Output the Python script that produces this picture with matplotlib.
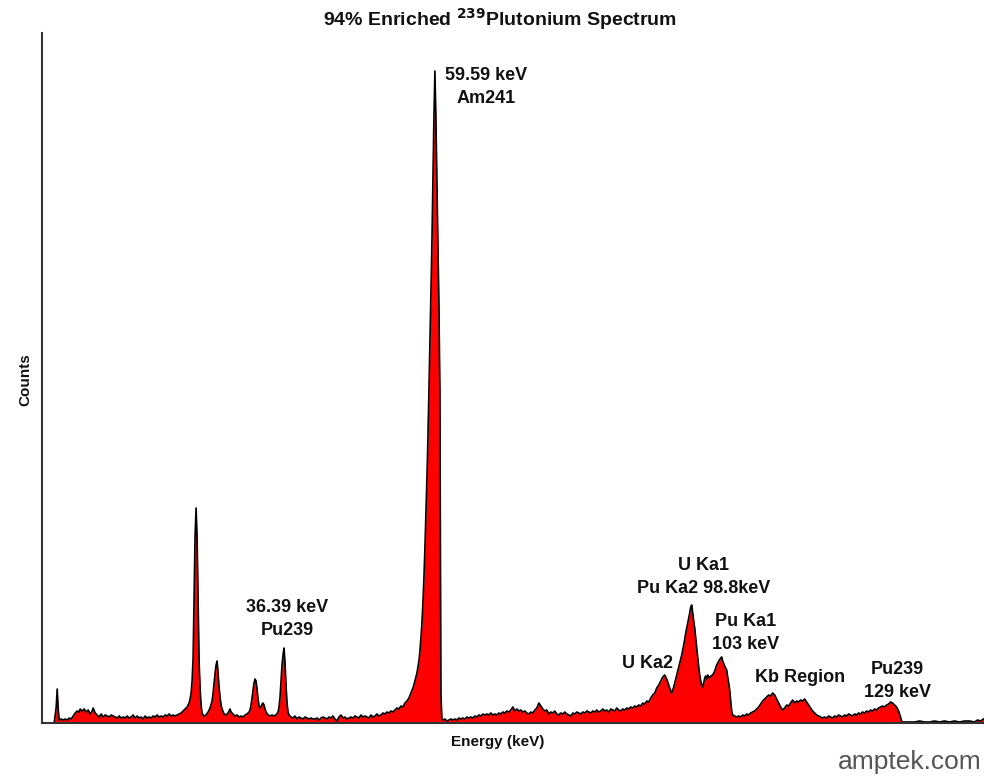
import matplotlib.pyplot as plt

# MCA readout: channel number and counts (arbitrary units)
# energy calibration: keV = GAIN * (channel - ZERO_CH)
GAIN = 0.1536
ZERO_CH = 47

channels = [
    54, 56, 57, 58, 59, 61, 63, 65, 67, 69, 71, 73, 75, 77, 79, 80, 82, 84, 86, 88,
    90, 92, 93, 95, 97, 99, 101, 103, 105, 107, 109, 111, 113, 115, 117, 119, 121, 123, 125, 127,
    129, 131, 133, 135, 137, 139, 141, 143, 145, 147, 149, 151, 153, 155, 157, 159, 161, 163, 165, 167,
    169, 171, 173, 175, 177, 179, 181, 183, 185, 187, 189, 190, 191, 192, 193, 194, 195, 196, 197, 198,
    199, 200, 201, 202, 203, 204, 206, 208, 210, 212, 213, 214, 215, 216, 217, 218, 219, 220, 221, 222,
    224, 226, 228, 230, 231, 233, 235, 237, 239, 241, 243, 245, 247, 249, 250, 251, 252, 253, 254, 255,
    256, 257, 258, 259, 260, 261, 262, 263, 264, 265, 266, 268, 270, 272, 274, 276, 278, 279, 280, 281,
    282, 283, 284, 285, 286, 287, 288, 289, 291, 293, 295, 297, 299, 301, 303, 305, 307, 309, 311, 313,
    315, 317, 319, 321, 323, 325, 327, 329, 331, 333, 335, 337, 339, 341, 343, 345, 347, 349, 351, 353,
    355, 357, 359, 361, 363, 365, 367, 369, 371, 373, 375, 377, 379, 381, 383, 385, 387, 389, 391, 393,
    395, 397, 399, 401, 403, 405, 407, 409, 411, 413, 415, 417, 419, 420, 421, 422, 423, 424, 425, 426,
    427, 428, 429, 430, 431, 432, 433, 434, 435, 436, 437, 438, 439, 440, 441, 442, 443, 445, 447, 449,
    451, 453, 455, 457, 459, 461, 463, 465, 467, 469, 471, 473, 475, 477, 479, 481, 483, 485, 487, 489,
    491, 493, 495, 497, 499, 501, 503, 505, 507, 509, 511, 513, 515, 517, 519, 521, 523, 525, 527, 529,
    531, 533, 535, 537, 539, 541, 543, 545, 547, 549, 551, 553, 555, 557, 559, 561, 563, 565, 567, 569,
    571, 573, 575, 577, 579, 581, 583, 585, 587, 589, 591, 593, 595, 597, 599, 601, 603, 605, 607, 609,
    611, 613, 615, 617, 619, 621, 623, 625, 627, 629, 631, 633, 635, 637, 639, 641, 643, 645, 647, 649,
    651, 653, 655, 657, 659, 661, 663, 665, 667, 669, 671, 672, 674, 676, 678, 680, 682, 684, 686, 688,
    690, 691, 692, 693, 694, 695, 696, 697, 698, 699, 700, 701, 702, 703, 704, 705, 706, 707, 708, 709,
    710, 711, 713, 715, 717, 719, 721, 722, 723, 725, 727, 728, 729, 730, 731, 732, 733, 735, 737, 739,
    741, 743, 745, 747, 749, 751, 753, 755, 757, 759, 761, 763, 765, 767, 769, 771, 773, 775, 777, 779,
    781, 783, 785, 787, 789, 791, 793, 795, 797, 799, 801, 803, 805, 807, 809, 811, 813, 815, 817, 819,
    821, 823, 825, 827, 829, 831, 833, 835, 837, 839, 841, 843, 845, 847, 849, 851, 853, 855, 857, 859,
    861, 863, 865, 867, 869, 871, 873, 875, 877, 879, 881, 883, 885, 887, 889, 891, 893, 895, 897, 899,
    901, 902, 903, 905, 910, 915, 920, 925, 930, 935, 940, 945, 950, 955, 960, 965, 970, 975, 978, 981,
    984,
]

counts = [
    0, 16, 34, 14, 3, 4, 3, 4, 3, 5, 4, 7, 10, 12, 11, 14, 12, 14, 11, 13,
    9, 12, 15, 10, 8, 6, 9, 6, 8, 7, 6, 8, 7, 6, 5, 7, 5, 6, 5, 7,
    5, 6, 8, 5, 7, 5, 6, 4, 7, 5, 6, 5, 7, 6, 8, 6, 7, 6, 8, 7,
    9, 7, 8, 7, 8, 9, 10, 12, 14, 16, 20, 24, 30, 42, 65, 128, 188, 215, 185, 125,
    62, 35, 18, 10, 8, 7, 8, 11, 15, 22, 30, 40, 50, 58, 62, 50, 36, 26, 18, 14,
    9, 8, 10, 14, 11, 9, 7, 8, 6, 7, 6, 8, 9, 11, 13, 18, 25, 33, 40, 44,
    42, 34, 24, 17, 15, 16, 19, 20, 18, 14, 11, 8, 7, 8, 7, 8, 11, 16, 26, 42,
    58, 68, 75, 60, 38, 20, 11, 8, 6, 5, 7, 4, 6, 5, 4, 6, 5, 4, 5, 4,
    4, 5, 3, 5, 6, 5, 4, 6, 5, 7, 4, 2, 6, 8, 5, 6, 4, 5, 6, 5,
    7, 6, 5, 8, 6, 7, 6, 5, 8, 6, 7, 9, 7, 8, 10, 9, 11, 10, 12, 11,
    13, 15, 14, 17, 16, 20, 22, 25, 30, 35, 42, 50, 62, 72, 85, 100, 120, 145, 175, 210,
    245, 285, 330, 380, 430, 480, 540, 605, 652, 605, 540, 480, 420, 330, 30, 4, 3, 4, 2, 3,
    4, 3, 4, 3, 5, 4, 5, 4, 6, 5, 6, 5, 7, 6, 8, 7, 9, 8, 9, 8,
    10, 8, 9, 8, 10, 9, 11, 10, 12, 11, 13, 16, 12, 14, 12, 13, 11, 12, 10, 9,
    11, 10, 13, 15, 20, 17, 14, 12, 13, 9, 11, 10, 12, 9, 8, 10, 9, 11, 9, 8,
    7, 10, 9, 11, 10, 9, 11, 10, 12, 11, 10, 12, 11, 13, 11, 12, 14, 12, 13, 11,
    14, 13, 12, 15, 13, 12, 14, 13, 15, 14, 16, 15, 17, 16, 18, 17, 20, 19, 22, 21,
    25, 28, 30, 35, 38, 42, 46, 48, 44, 38, 32, 30, 36, 44, 52, 60, 68, 78, 90, 100,
    110, 116, 118, 110, 102, 95, 85, 75, 66, 56, 48, 42, 38, 36, 40, 45, 47, 44, 48, 46,
    45, 47, 48, 52, 58, 62, 65, 66, 62, 57, 53, 46, 40, 33, 22, 12, 8, 7, 6, 7,
    6, 8, 7, 9, 8, 10, 11, 12, 14, 16, 19, 22, 24, 26, 28, 27, 30, 28, 24, 20,
    16, 13, 15, 18, 17, 20, 23, 20, 22, 21, 23, 22, 24, 21, 18, 15, 12, 10, 8, 7,
    6, 5, 6, 5, 7, 6, 5, 7, 6, 8, 7, 6, 8, 7, 9, 8, 7, 9, 8, 10,
    9, 11, 10, 12, 11, 13, 12, 14, 13, 15, 16, 17, 16, 18, 19, 21, 20, 18, 16, 12,
    6, 2, 1, 1, 1, 1, 2, 1, 1, 2, 1, 2, 1, 2, 1, 2, 2, 1, 3, 2,
    4,
]

# peak annotations: (text, energy keV, counts)
labels = [
    ("59.59 keV\nAm241", 67.4, 636),
    ("36.39 keV\nPu239", 36.9, 104),
    ("U Ka1\nPu Ka2 98.8keV", 100.9, 146),
    ("Pu Ka1\n103 keV", 107.4, 90),
    ("U Ka2", 92.3, 59),
    ("Kb Region", 115.7, 46),
    ("Pu239\n129 keV", 130.7, 42),
]

energy = [GAIN * (c - ZERO_CH) for c in channels]

fig = plt.figure(figsize=(9.84, 7.76), dpi=100)
ax = fig.add_axes([42 / 984, 53 / 776, 942 / 984, 690 / 776])

ax.fill_between(energy, counts, 0, color="#ff0000", linewidth=0)
ax.plot(energy, counts, color="black", linewidth=1.2)

ax.set_xlim(-0.8, 144.0)
ax.set_ylim(0, 690)
ax.set_xticks([])
ax.set_yticks([])
for side in ["top", "right"]:
    ax.spines[side].set_visible(False)
for side in ["left", "bottom"]:
    ax.spines[side].set_color("#333333")
    ax.spines[side].set_linewidth(1.5)

bold = dict(family="Liberation Sans", fontweight="bold", color="#111111")
for txt, e, c in labels:
    ax.text(e, c, txt, ha="center", va="center", fontsize=13, linespacing=1.45, **bold)

fig.text(500 / 984, 1 - 19 / 776, r"94% Enriched $^{\mathbf{239}}$Plutonium Spectrum",
         ha="center", va="center", fontsize=14, **bold)
fig.text(25 / 984, 1 - 380 / 776, "Counts", rotation=90, ha="center", va="center",
         fontsize=11, **bold)
fig.text(498 / 984, 1 - 742 / 776, "Energy (keV)", ha="center", va="center",
         fontsize=11, **bold)
fig.text(982 / 984, 1 - 762 / 776, "amptek.com", ha="right", va="center",
         fontsize=19, family="Liberation Sans", color="#555555")

fig.savefig("out.png", dpi=100)
